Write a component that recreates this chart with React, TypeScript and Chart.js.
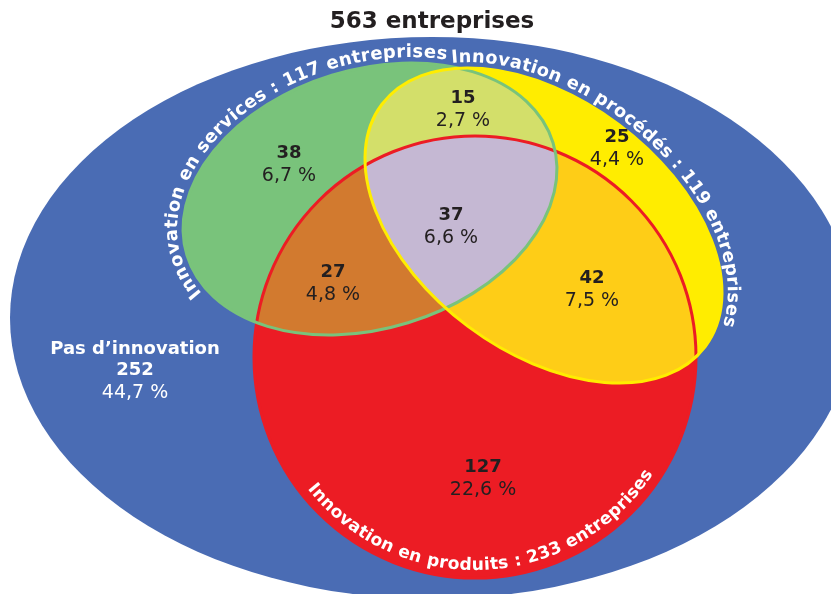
import React, { useEffect, useRef } from "react";
import { Chart, registerables } from "chart.js";

Chart.register(...registerables);

// ---------------- DATA ----------------
const totalCompanies = 563;
const totalUnit = "entreprises";
const setKeys = ["services", "processes", "products"];
const setNames = ["Innovation en services", "Innovation en procédés", "Innovation en produits"];
const setTotals = [117, 119, 233];
const regionMembers: string[][] = [
  ["services"],
  ["processes"],
  ["products"],
  ["services", "processes"],
  ["services", "products"],
  ["processes", "products"],
  ["services", "processes", "products"],
  [],
];
const regionCounts = [38, 25, 127, 15, 27, 42, 37, 252];
const regionPercents = ["6,7 %", "4,4 %", "22,6 %", "2,7 %", "4,8 %", "7,5 %", "6,6 %", "44,7 %"];
const noneLabel = "Pas d’innovation";

// ---------------- LAYOUT / STYLE ----------------
const W = 831;
const H = 594;
type Ell = { cx: number; cy: number; rx: number; ry: number; rot: number };
const SHAPES: Record<string, Ell> = {
  universe: { cx: 432, cy: 318, rx: 422, ry: 281, rot: 0 },
  services: { cx: 370, cy: 199, rx: 191.5, ry: 129.5, rot: -17.1 },
  processes: { cx: 543.5, cy: 225.5, rx: 202, ry: 126, rot: 36.8 },
  products: { cx: 475, cy: 357, rx: 221, ry: 221, rot: 0 },
};
const SET_COLORS: Record<string, string> = {
  services: "#79c37b",
  processes: "#ffed00",
  products: "#ec1c24",
};
const UNIVERSE_COLOR = "#4a6cb4";
const REGION_FILLS = ["#79c37b", "#ffed00", "#ec1c24", "#d3df6a", "#d27a2f", "#fecd17", "#c5b8d3", "#4a6cb4"];
// anchor of each region label (centre of number line)
const LABEL_POS = [
  [289, 153],
  [617, 137],
  [483, 467],
  [463, 98],
  [333, 272],
  [592, 278],
  [451, 215],
  [135, 370],
];
// curved set labels: baseline offset, start, end, direction
const CURVES: Record<string, { off: number; start: number[]; end: number[]; dir: number }> = {
  services: { off: 6, start: [194, 300], end: [447, 56], dir: 1 },
  processes: { off: 6, start: [452, 64], end: [727, 327], dir: 1 },
  products: { off: -8, start: [306, 490], end: [650, 472], dir: -1 },
};
const TEXT_DARK = "#231f20";
const NUM_FONT = "bold 18px 'DejaVu Sans', sans-serif";
const PCT_FONT = "19px 'DejaVu Sans', sans-serif";
const CURVE_FAMILY = "'DejaVu Sans', sans-serif";

function ellipsePath(ctx: CanvasRenderingContext2D, chart: any, e: Ell) {
  const xs = chart.scales.x;
  const ys = chart.scales.y;
  const cx = xs.getPixelForValue(e.cx);
  const cy = ys.getPixelForValue(e.cy);
  const rx = Math.abs(xs.getPixelForValue(e.cx + e.rx) - cx);
  const ry = Math.abs(ys.getPixelForValue(e.cy + e.ry) - cy);
  ctx.beginPath();
  ctx.ellipse(cx, cy, rx, ry, (e.rot * Math.PI) / 180, 0, Math.PI * 2);
  ctx.closePath();
}

function drawOnEllipse(
  ctx: CanvasRenderingContext2D,
  text: string,
  e: Ell,
  cfg: { off: number; start: number[]; end: number[]; dir: number },
  fontSize: number,
  color: string
) {
  const rot = (e.rot * Math.PI) / 180;
  const c = Math.cos(rot);
  const s = Math.sin(rot);
  const pt = (t: number) => {
    const a = (e.rx + cfg.off) * Math.cos(t);
    const b = (e.ry + cfg.off) * Math.sin(t);
    return [e.cx + a * c - b * s, e.cy + a * s + b * c];
  };
  const nearest = (p: number[]) => {
    let best = 0;
    let bd = Infinity;
    for (let i = 0; i < 3600; i++) {
      const t = (i / 3600) * Math.PI * 2;
      const q = pt(t);
      const d = (q[0] - p[0]) ** 2 + (q[1] - p[1]) ** 2;
      if (d < bd) {
        bd = d;
        best = t;
      }
    }
    return best;
  };
  const t0 = nearest(cfg.start);
  let t1 = nearest(cfg.end);
  if (cfg.dir > 0) {
    while (t1 <= t0) t1 += Math.PI * 2;
  } else {
    while (t1 >= t0) t1 -= Math.PI * 2;
  }
  const N = 1500;
  const ps: number[][] = [];
  const ls: number[] = [0];
  for (let i = 0; i <= N; i++) {
    const p = pt(t0 + ((t1 - t0) * i) / N);
    ps.push(p);
    if (i > 0) {
      const q = ps[i - 1];
      ls.push(ls[i - 1] + Math.hypot(p[0] - q[0], p[1] - q[1]));
    }
  }
  const L = ls[N];
  const chars = Array.from(text);
  let size = fontSize;
  ctx.font = `bold ${size}px ${CURVE_FAMILY}`;
  let widths = chars.map((ch) => ctx.measureText(ch).width);
  let total = widths.reduce((a, b) => a + b, 0);
  if (total > L * 0.97) {
    size = (size * L * 0.97) / total;
    ctx.font = `bold ${size}px ${CURVE_FAMILY}`;
    widths = chars.map((ch) => ctx.measureText(ch).width);
    total = widths.reduce((a, b) => a + b, 0);
  }
  const gap = (L - total) / (chars.length - 1);
  ctx.fillStyle = color;
  ctx.textAlign = "center";
  ctx.textBaseline = "alphabetic";
  let pos = 0;
  let k = 1;
  chars.forEach((ch, i) => {
    const center = pos + widths[i] / 2;
    while (k < N && ls[k] < center) k++;
    const k0 = Math.max(0, k - 1);
    const f = ls[k] - ls[k0] > 0 ? (center - ls[k0]) / (ls[k] - ls[k0]) : 0;
    const x = ps[k0][0] + (ps[k][0] - ps[k0][0]) * f;
    const y = ps[k0][1] + (ps[k][1] - ps[k0][1]) * f;
    const a = Math.atan2(ps[k][1] - ps[k0][1], ps[k][0] - ps[k0][0]);
    ctx.save();
    ctx.translate(x, y);
    ctx.rotate(a);
    ctx.fillText(ch, 0, 0);
    ctx.restore();
    pos += widths[i] + gap;
  });
}

const vennPlugin = {
  id: "venn",
  beforeDatasetsDraw(chart: any) {
    const ctx: CanvasRenderingContext2D = chart.ctx;
    ctx.save();
    // universe
    ellipsePath(ctx, chart, SHAPES.universe);
    ctx.fillStyle = UNIVERSE_COLOR;
    ctx.fill();
    // regions: singles first, then pairs, then triple
    const order = regionMembers
      .map((m, i) => ({ m, i }))
      .filter((r) => r.m.length > 0)
      .sort((a, b) => a.m.length - b.m.length);
    order.forEach(({ m, i }) => {
      ctx.save();
      m.forEach((key) => {
        ellipsePath(ctx, chart, SHAPES[key]);
        ctx.clip();
      });
      ctx.fillStyle = REGION_FILLS[i];
      ctx.fillRect(0, 0, W, H);
      ctx.restore();
    });
    // outlines
    ["products", "services", "processes"].forEach((key) => {
      ellipsePath(ctx, chart, SHAPES[key]);
      ctx.lineWidth = 3;
      ctx.strokeStyle = SET_COLORS[key];
      ctx.stroke();
    });
    ctx.restore();
  },
  afterDatasetsDraw(chart: any) {
    const ctx: CanvasRenderingContext2D = chart.ctx;
    const meta = chart.getDatasetMeta(0);
    ctx.save();
    ctx.textAlign = "center";
    ctx.textBaseline = "middle";
    meta.data.forEach((el: any, i: number) => {
      const none = regionMembers[i].length === 0;
      const col = none ? "#ffffff" : TEXT_DARK;
      ctx.fillStyle = col;
      if (none) {
        ctx.font = NUM_FONT;
        ctx.fillText(noneLabel, el.x, el.y - 21);
      }
      ctx.font = NUM_FONT;
      ctx.fillText(String(regionCounts[i]), el.x, el.y);
      ctx.font = PCT_FONT;
      ctx.fillText(regionPercents[i], el.x, el.y + 23);
    });
    // title
    ctx.fillStyle = TEXT_DARK;
    ctx.font = "bold 23px 'DejaVu Sans', sans-serif";
    ctx.fillText(`${totalCompanies} ${totalUnit}`, 432, 22);
    // curved set labels
    setKeys.forEach((key, i) => {
      drawOnEllipse(ctx, `${setNames[i]} : ${setTotals[i]} ${totalUnit}`, SHAPES[key], CURVES[key], 18, "#ffffff");
    });
    ctx.restore();
  },
};

export default function App() {
  const ref = useRef<HTMLCanvasElement | null>(null);
  useEffect(() => {
    if (!ref.current) return;
    const chart = new Chart(ref.current, {
      type: "scatter",
      data: {
        datasets: [
          {
            data: LABEL_POS.map((p) => ({ x: p[0], y: p[1] })),
            pointRadius: 0,
            pointHoverRadius: 0,
          },
        ],
      },
      options: {
        animation: false,
        responsive: false,
        events: [],
        layout: { padding: 0 },
        plugins: { legend: { display: false }, tooltip: { enabled: false }, title: { display: false } },
        scales: {
          x: { type: "linear", min: 0, max: W, display: false },
          y: { type: "linear", min: 0, max: H, reverse: true, display: false },
        },
      },
      plugins: [vennPlugin],
    });
    return () => chart.destroy();
  }, []);
  return (
    <div style={{ position: "fixed", left: 0, top: 0, width: W, height: H, background: "#ffffff" }}>
      <canvas ref={ref} width={W} height={H} style={{ width: W, height: H, display: "block" }} />
    </div>
  );
}
